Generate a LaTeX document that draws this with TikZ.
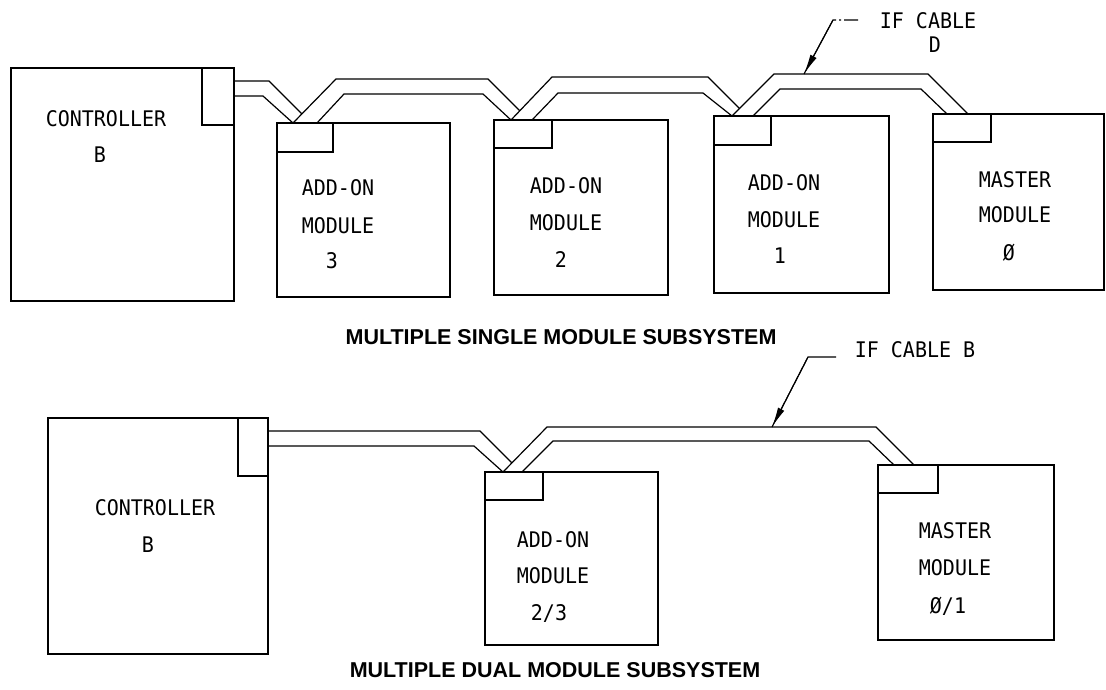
\documentclass[tikz,border=0pt]{standalone}
\usepackage{fontspec}
\newfontfamily\lblfont[FakeStretch=0.93]{DejaVu Sans Mono}
\newfontfamily\capfont{Liberation Sans}
\usetikzlibrary{arrows.meta,calc}
\begin{document}
\begin{tikzpicture}[x=1pt,y=-1pt,
  box/.style={draw, line width=2.2pt, rectangle, inner sep=0pt, outer sep=0pt, anchor=north west},
  cable/.style={line width=1.2pt, line join=miter},
  lbl/.style={font=\lblfont\fontsize{21.5}{26}\selectfont, anchor=base, inner sep=0pt},
  captn/.style={font=\capfont\bfseries\fontsize{21.5}{26}\selectfont, anchor=base, inner sep=0pt},
  leader/.style={line width=1.1pt, -{Latex[length=20pt,width=7pt]}}]
\useasboundingbox (0,0) rectangle (1106,689);

% ---------------- top row ----------------
\node[box, minimum width=223pt, minimum height=233pt] (ctrlA) at (11,68) {};
\node[box, minimum width=32pt, minimum height=57pt] (pA) at (202,68) {};
\node[box, minimum width=173pt, minimum height=174pt] (m3) at (277,123) {};
\node[box, minimum width=56pt, minimum height=29pt] (p3) at (277,123) {};
\node[box, minimum width=174pt, minimum height=175pt] (m2) at (494,120) {};
\node[box, minimum width=58pt, minimum height=28pt] (p2) at (494,120) {};
\node[box, minimum width=175pt, minimum height=177pt] (m1) at (714,116) {};
\node[box, minimum width=57pt, minimum height=29pt] (p1) at (714,116) {};
\node[box, minimum width=171pt, minimum height=176pt] (m0) at (933,114) {};
\node[box, minimum width=58pt, minimum height=28pt] (p0) at (933,114) {};

% cables top row
\draw[cable] ($(pA.north east)+(0,13)$) -- (269,81) -- (301.9,113.9);
\draw[cable] ($(pA.north east)+(0,28)$) -- (263,96) -- ($(p3.north west)+(16,0)$);
\draw[cable] ($(p3.north west)+(16,0)$) -- (336,79) -- (488,79) -- (519.8,110.8);
\draw[cable] ($(p3.north west)+(40,0)$) -- (344,94) -- (483,94) -- ($(p2.north west)+(17,0)$);
\draw[cable] ($(p2.north west)+(17,0)$) -- (552,77) -- (708,77) -- (739.5,108.5);
\draw[cable] ($(p2.north west)+(38,0)$) -- (558,93) -- (703,93) -- ($(p1.north west)+(18,0)$);
\draw[cable] ($(p1.north west)+(18,0)$) -- (774,74) -- (928,74) -- ($(p0.north west)+(35,0)$);
\draw[cable] ($(p1.north west)+(39,0)$) -- (780,89) -- (921,89) -- ($(p0.north west)+(14,0)$);

% labels top row
\node[lbl] (tA1) at (106,126) {CONTROLLER};
\node[lbl] (tA2) at (100,162) {B};
\node[lbl] (t31) at (338,195) {ADD-ON};
\node[lbl] (t32) at (338,233) {MODULE};
\node[lbl] (t33) at (332,268) {3};
\node[lbl] (t21) at (566,193) {ADD-ON};
\node[lbl] (t22) at (566,230) {MODULE};
\node[lbl] (t23) at (561,267) {2};
\node[lbl] (t11) at (784,190) {ADD-ON};
\node[lbl] (t12) at (784,227) {MODULE};
\node[lbl] (t13) at (780,263) {1};
\node[lbl] (t01) at (1015,187) {MASTER};
\node[lbl] (t02) at (1015,222) {MODULE};
\node[lbl] (t03) at (1009,260) {Ø};
\node[lbl] (ifd1) at (928,28) {IF CABLE};
\node[lbl] (ifd2) at (935,52) {D};
\coordinate (tipD) at (804,74);
\draw[line width=1.1pt, dash pattern=on 14pt off 3pt on 2pt off 3pt on 400pt] (858,20) -- (833,20) -- (tipD);
\draw[leader] (833,20) -- (tipD);

\node[captn] (capA) at (561,344) {MULTIPLE SINGLE MODULE SUBSYSTEM};

% ---------------- bottom row ----------------
\node[box, minimum width=220pt, minimum height=236pt] (ctrlB) at (48,418) {};
\node[box, minimum width=30pt, minimum height=58pt] (pB) at (238,418) {};
\node[box, minimum width=173pt, minimum height=173pt] (m23) at (485,472) {};
\node[box, minimum width=58pt, minimum height=28pt] (p23) at (485,472) {};
\node[box, minimum width=176pt, minimum height=175pt] (mM) at (878,465) {};
\node[box, minimum width=60pt, minimum height=28pt] (pM) at (878,465) {};

\draw[cable] ($(pB.north east)+(0,13)$) -- (480,431) -- (511.9,462.9);
\draw[cable] ($(pB.north east)+(0,28)$) -- (474,446) -- ($(p23.north west)+(18,0)$);
\draw[cable] ($(p23.north west)+(18,0)$) -- (547,427) -- (876,427) -- ($(pM.north west)+(36,0)$);
\draw[cable] ($(p23.north west)+(37,0)$) -- (553,441) -- (869,441) -- ($(pM.north west)+(16,0)$);

\node[lbl] (tB1) at (155,515) {CONTROLLER};
\node[lbl] (tB2) at (148,552) {B};
\node[lbl] (t231) at (553,547) {ADD-ON};
\node[lbl] (t232) at (553,583) {MODULE};
\node[lbl] (t233) at (549,620) {2/3};
\node[lbl] (tM1) at (955,538) {MASTER};
\node[lbl] (tM2) at (955,575) {MODULE};
\node[lbl] (tM3) at (948,613) {Ø/1};
\node[lbl] (ifb) at (915,357) {IF CABLE B};
\coordinate (tipB) at (772,427);
\draw[line width=1.1pt] (836,357) -- (808,357) -- (tipB);
\draw[leader] (808,357) -- (tipB);

\node[captn] (capB) at (555,677) {MULTIPLE DUAL MODULE SUBSYSTEM};
\end{tikzpicture}
\end{document}
